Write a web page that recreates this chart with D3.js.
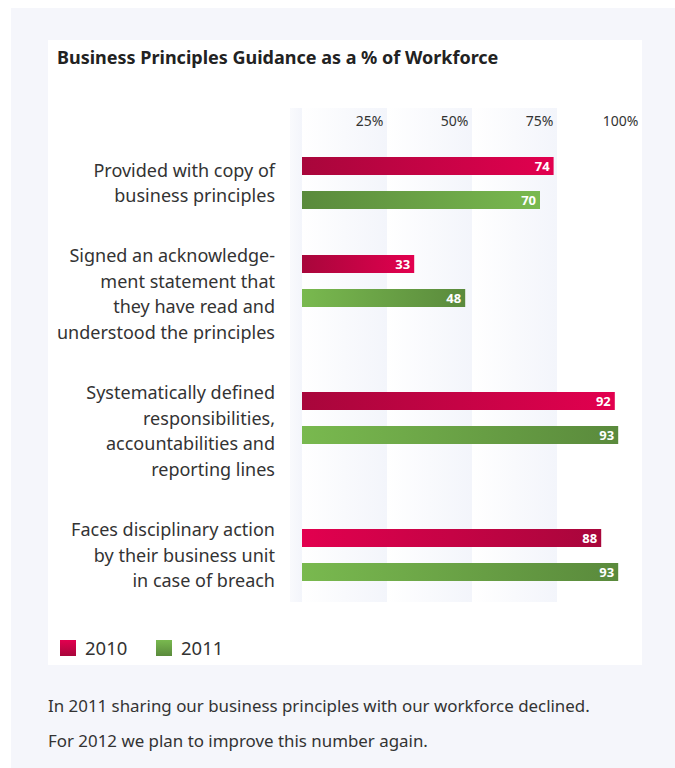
<!DOCTYPE html>
<html>
<head>
<meta charset="utf-8">
<script src="https://cdn.jsdelivr.net/npm/d3@7"></script>
<style>
  body { margin: 0; background: #fff; }
  svg { display: block; font-family: "Noto Sans", "Open Sans", sans-serif; }
</style>
</head>
<body>
<script>
// data
var categories = [
  ["Provided with copy of", "business principles"],
  ["Signed an acknowledge-", "ment statement that", "they have read and", "understood the principles"],
  ["Systematically defined", "responsibilities,", "accountabilities and", "reporting lines"],
  ["Faces disciplinary action", "by their business unit", "in case of breach"]
];
var values2010 = [74, 33, 92, 88];
var values2011 = [70, 48, 93, 93];
var years = ["2010", "2011"];
var tickValues = [25, 50, 75, 100];
// gradient direction per bar (true = dark on the left)
var darkLeft2010 = [true, true, true, false];
var darkLeft2011 = [true, false, false, false];

var W = 675, H = 768;
var svg = d3.select("body").append("svg").attr("width", W).attr("height", H);

var defs = svg.append("defs");
function grad(id, c0, c1, x2, y2) {
  var g = defs.append("linearGradient").attr("id", id)
    .attr("x1", 0).attr("y1", 0).attr("x2", x2).attr("y2", y2);
  g.append("stop").attr("offset", "0%").attr("stop-color", c0);
  g.append("stop").attr("offset", "100%").attr("stop-color", c1);
}
var redDark = "#a8063b", redLight = "#e2004f";
var greenDark = "#5a8a3c", greenLight = "#79b94f";
grad("r-dl", redDark, redLight, 1, 0);
grad("r-ld", redLight, redDark, 1, 0);
grad("g-dl", greenDark, greenLight, 1, 0);
grad("g-ld", greenLight, greenDark, 1, 0);
grad("r-v", redLight, redDark, 0, 1);
grad("g-v", greenLight, greenDark, 0, 1);
grad("band", "#ffffff", "#f3f5fb", 1, 0);
grad("band0", "#f9fafd", "#f3f5fb", 1, 0);

// backgrounds
svg.append("rect").attr("x", 11).attr("y", 8).attr("width", W - 11).attr("height", H - 8).attr("fill", "#f5f6fb");
svg.append("rect").attr("x", 48).attr("y", 40).attr("width", 594).attr("height", 625).attr("fill", "#fff");

// title
svg.append("text")
  .attr("x", 57).attr("y", 64)
  .attr("font-size", 18).attr("font-weight", "bold").attr("fill", "#222")
  .text("Business Principles Guidance as a % of Workforce");

// scales
var x = d3.scaleLinear().domain([0, 100]).range([302, 642]);
var plotTop = 108, plotBottom = 602;

// group slots sized by number of label lines
var lineH = 25.5;
var slot = categories.map(function(c) { return 19.5 * c.length + 59; });
var starts = [0];
slot.forEach(function(s, i) { starts.push(starts[i] + s); });
var y = d3.scaleLinear().domain([0, 1]).range([157, 158]);
function groupTop(i) { return y(starts[i]); }
var barH = 18, barGap = 16;

// background bands
svg.append("rect").attr("x", 290).attr("y", plotTop).attr("width", 12)
  .attr("height", plotBottom - plotTop).attr("fill", "url(#band0)");
svg.selectAll(".band").data(tickValues.slice(0, 3)).enter().append("rect")
  .attr("class", "band")
  .attr("x", function(d) { return x(d - 25); })
  .attr("y", plotTop)
  .attr("width", function(d) { return x(d) - x(d - 25); })
  .attr("height", plotBottom - plotTop)
  .attr("fill", "url(#band)");

// tick labels
var xAxis = d3.axisTop(x).tickValues(tickValues).tickSize(0).tickPadding(0)
  .tickFormat(function(d) { return d + "%"; });
var ax = svg.append("g").attr("transform", "translate(0,126)").call(xAxis);
ax.select(".domain").remove();
ax.selectAll("text")
  .attr("text-anchor", "end").attr("dx", -4).attr("dy", 0)
  .attr("font-family", "\"Noto Sans\", sans-serif")
  .attr("font-size", 14).attr("fill", "#333");

// bars
var rows = [];
categories.forEach(function(c, i) {
  rows.push({ v: values2010[i], top: groupTop(i), fill: darkLeft2010[i] ? "url(#r-dl)" : "url(#r-ld)" });
  rows.push({ v: values2011[i], top: groupTop(i) + barH + barGap, fill: darkLeft2011[i] ? "url(#g-dl)" : "url(#g-ld)" });
});

svg.selectAll(".bar").data(rows).enter().append("rect")
  .attr("class", "bar")
  .attr("x", x(0))
  .attr("y", function(d) { return d.top; })
  .attr("width", function(d) { return x(d.v) - x(0); })
  .attr("height", barH)
  .attr("fill", function(d) { return d.fill; });

svg.selectAll(".val").data(rows).enter().append("text")
  .attr("class", "val")
  .attr("x", function(d) { return x(d.v) - 4; })
  .attr("y", function(d) { return d.top + barH / 2; })
  .attr("dy", "0.36em")
  .attr("text-anchor", "end")
  .attr("font-size", 13).attr("font-weight", "bold").attr("fill", "#fff")
  .text(function(d) { return d.v; });

// category labels
var block = barH * 2 + barGap;
categories.forEach(function(lines, i) {
  var top = groupTop(i);
  var first = lines.length * lineH <= block + 4
    ? top + block / 2 - (lines.length - 1) * lineH / 2
    : top + 1;
  var t = svg.append("text")
    .attr("text-anchor", "end").attr("font-size", 18).attr("fill", "#333");
  lines.forEach(function(l, j) {
    t.append("tspan").attr("x", 275).attr("y", first + j * lineH).attr("dy", "0.35em").text(l);
  });
});

// legend
var legend = svg.selectAll(".leg").data(years).enter().append("g")
  .attr("class", "leg")
  .attr("transform", function(d, i) { return "translate(" + (60 + i * 96) + ",640)"; });
legend.append("rect").attr("width", 16).attr("height", 16)
  .attr("fill", function(d, i) { return i === 0 ? "url(#r-v)" : "url(#g-v)"; });
legend.append("text").attr("x", 25).attr("y", 8).attr("dy", "0.36em")
  .attr("font-size", 18.5).attr("fill", "#333")
  .text(function(d) { return d; });

// footnote
svg.append("text").attr("x", 48).attr("y", 706).attr("dy", "0.35em")
  .attr("font-size", 16.9).attr("fill", "#333")
  .text("In 2011 sharing our business principles with our workforce declined.");
svg.append("text").attr("x", 48).attr("y", 741).attr("dy", "0.35em")
  .attr("font-size", 16.9).attr("fill", "#333")
  .text("For 2012 we plan to improve this number again.");
</script>
</body>
</html>
